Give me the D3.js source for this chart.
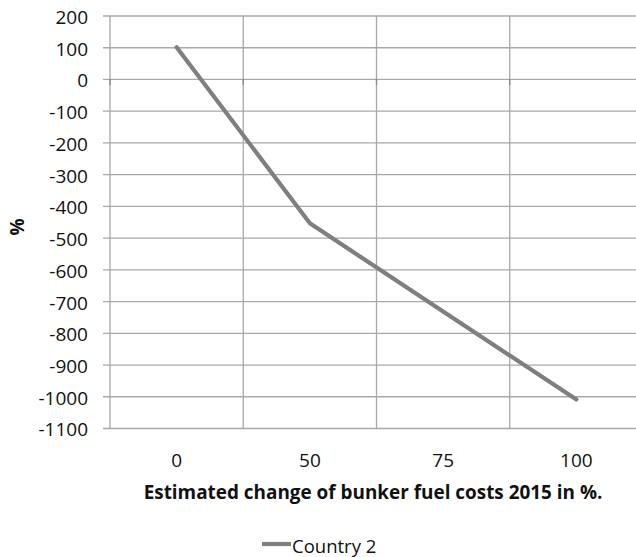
<!DOCTYPE html>
<html>
<head>
<meta charset="utf-8">
<script src="https://cdn.jsdelivr.net/npm/d3@7"></script>
<style>
  html, body { margin: 0; padding: 0; background: #fff; }
  svg { display: block; }
  text { font-family: "Open Sans", sans-serif; fill: #111; }
</style>
</head>
<body>
<svg id="chart" width="636" height="557"></svg>
<script>
// ---- data ----
const categories = ["0", "50", "75", "100"];
const seriesName = "Country 2";
const values = [100, -455, -733, -1010];
const yTicks = [200, 100, 0, -100, -200, -300, -400, -500, -600, -700, -800, -900, -1000, -1100];
const xTitle = "Estimated change of bunker fuel costs 2015 in %.";
const yTitle = "%";

(function () {
// ---- layout ----
const plotL = 110, plotR = 643, plotT = 15.5, plotB = 428;
const gridColor = "#a8a8a8";
const lineColor = "#7f7f7f";

const svg = d3.select("#chart");

const x = d3.scaleBand().domain(categories).range([plotL, plotR]).paddingInner(0).paddingOuter(0);
const y = d3.scaleLinear().domain([-1100, 200]).range([plotB, plotT]);

// horizontal gridlines + y axis
const yAxis = d3.axisLeft(y).tickValues(yTicks).tickFormat(d => String(d))
  .tickSize(-(plotR - plotL)).tickSizeOuter(0).tickPadding(22);
const gy = svg.append("g").attr("transform", `translate(${plotL},0)`).call(yAxis);
gy.select(".domain").remove();
gy.selectAll(".tick line")
  .attr("x1", -7)
  .attr("stroke", gridColor).attr("stroke-width", 1.3);
gy.selectAll(".tick text")
  .attr("font-size", 19).attr("dy", "0.42em").attr("fill", "#111")
  .style("font-family", "'Open Sans', sans-serif");

// vertical gridlines at band boundaries (including left axis)
const bounds = categories.map(c => x(c));
svg.append("g").selectAll("line").data(bounds).join("line")
  .attr("x1", d => d).attr("x2", d => d)
  .attr("y1", plotT).attr("y2", plotB)
  .attr("stroke", gridColor).attr("stroke-width", 1.3);

// category axis tick marks at y = 0
svg.append("g").selectAll("line").data(bounds).join("line")
  .attr("x1", d => d).attr("x2", d => d)
  .attr("y1", y(0)).attr("y2", y(0) + 6)
  .attr("stroke", "#8a8a8a").attr("stroke-width", 1.3);

// category labels (low position)
const xAxis = d3.axisBottom(x).tickSize(0).tickPadding(0);
const gx = svg.append("g").attr("transform", `translate(0,${plotB})`).call(xAxis);
gx.select(".domain").remove();
gx.selectAll(".tick text")
  .attr("y", 38.5).attr("dy", 0)
  .attr("font-size", 19).attr("fill", "#111")
  .style("font-family", "'Open Sans', sans-serif");

// line
const line = d3.line()
  .x((d, i) => x(categories[i]) + x.bandwidth() / 2)
  .y(d => y(d));
svg.append("path").datum(values)
  .attr("d", line)
  .attr("fill", "none")
  .attr("stroke", lineColor)
  .attr("stroke-width", 4.2)
  .attr("stroke-linejoin", "round")
  .attr("stroke-linecap", "round");

// x title
const xt = svg.append("text")
  .attr("x", 373).attr("y", 498.5)
  .attr("text-anchor", "middle")
  .attr("font-weight", "bold")
  .attr("font-size", 17)
  .text(xTitle);
const targetW = 459;
const w0 = xt.node().getComputedTextLength();
xt.attr("font-size", 17 * targetW / w0);

// y title
svg.append("text")
  .attr("transform", "translate(24,227) rotate(-90)")
  .attr("text-anchor", "middle")
  .attr("font-weight", "bold")
  .attr("font-size", 19)
  .text(yTitle);

// legend
svg.append("line")
  .attr("x1", 262).attr("x2", 291)
  .attr("y1", 544).attr("y2", 544)
  .attr("stroke", lineColor).attr("stroke-width", 4.2);
svg.append("text")
  .attr("x", 292).attr("y", 553)
  .attr("font-size", 18.5)
  .text(seriesName);
})();
</script>
</body>
</html>
